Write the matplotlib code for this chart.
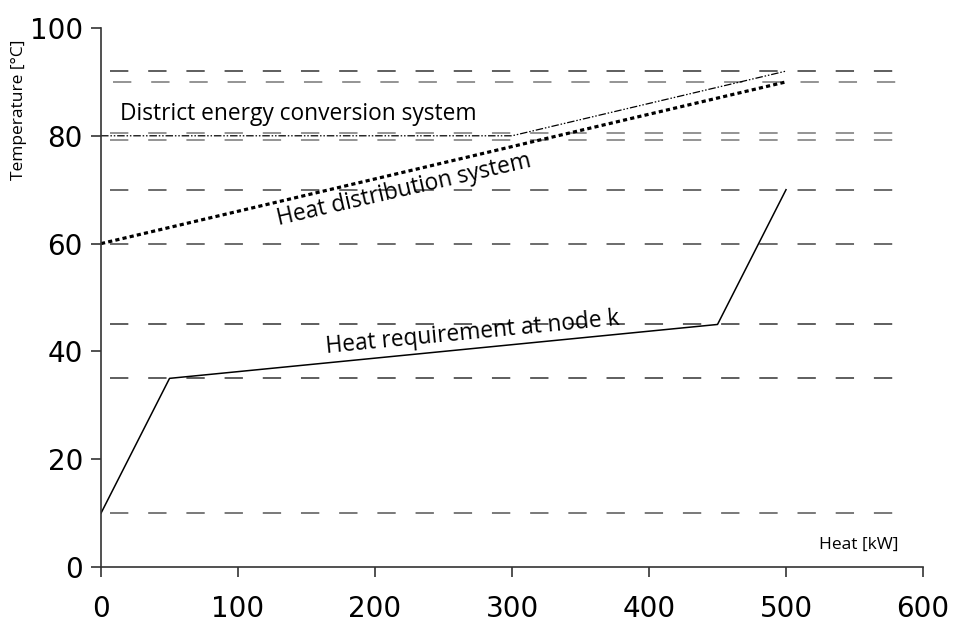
import matplotlib.pyplot as plt

# heat requirement curve at node k
req_q = [0, 50, 450, 500]
req_t = [10, 35, 45, 70]

# heat distribution system
dist_q = [0, 500]
dist_t = [60, 90]

# district energy conversion system
conv_q = [0, 300, 500]
conv_t = [80, 80, 92]

# reference temperature levels (level, colour)
levels = [92, 90, 80.6, 79.2, 70, 60, 45, 35, 10]
level_cols = ["#333333", "#777777", "#777777", "#777777", "#444444",
              "#444444", "#333333", "#333333", "#555555"]

fig = plt.figure(figsize=(9.55, 6.26), dpi=100)
ax = fig.add_axes([0.1058, 0.0942, 0.8607, 0.8611])

for t, c in zip(levels, level_cols):
    x0 = 8.5 if t == 90 else 6.6
    ax.plot([x0, 592], [t, t], color=c, lw=1.1, dashes=(12, 13))

ax.plot(req_q, req_t, color="black", lw=1.1)
ax.plot(dist_q, dist_t, color="black", lw=2.3, linestyle=(0, (1.3, 1.0)))
ax.plot(conv_q, conv_t, color="black", lw=0.9,
        linestyle=(0, (6, 1.5, 1.2, 1.5, 1.2, 1.5)))

lab = dict(family="Open Sans", fontsize=16.4)
ax.text(14, 81.8, "District energy conversion system", ha="left", va="bottom", **lab)
ax.text(221, 70.0, "Heat distribution system", ha="center", va="center",
        rotation=13, rotation_mode="anchor", **lab)
ax.text(271, 43.4, "Heat requirement at node k", ha="center", va="center",
        rotation=5.5, rotation_mode="anchor", **lab)

ax.set_xlim(0, 600)
ax.set_ylim(0, 100)
ax.set_xticks(range(0, 601, 100))
ax.set_yticks(range(0, 101, 20))
ax.tick_params(labelsize=20, direction="out", length=7, width=1.2, color="#333333")
ax.tick_params(axis="x", pad=13)
ax.tick_params(axis="y", pad=6)

for s in ["top", "right"]:
    ax.spines[s].set_visible(False)
for s in ["left", "bottom"]:
    ax.spines[s].set_color("#333333")
    ax.spines[s].set_linewidth(1.2)

fig.text(19 / 955, 1 - 110 / 626, "Temperature [°C]", family="Open Sans",
         fontsize=12.5, rotation=90, ha="center", va="center")
fig.text(859 / 955, 1 - 545 / 626, "Heat [kW]", family="Open Sans",
         fontsize=12.5, ha="center", va="center")

fig.savefig("out.png", dpi=100)
